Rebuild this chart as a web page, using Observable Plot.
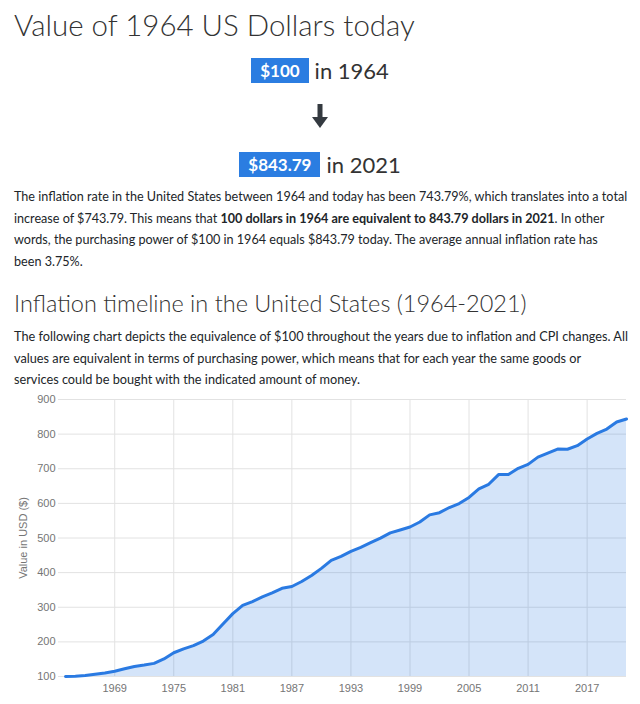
<!DOCTYPE html>
<html><head><meta charset="utf-8">
<script src="https://cdn.jsdelivr.net/npm/d3@7"></script>
<script src="https://cdn.jsdelivr.net/npm/@observablehq/plot@0.6"></script>
<style>
body{margin:0;width:640px;height:704px;position:relative;overflow:hidden;background:#fff;font-family:Lato,"Open Sans",sans-serif;color:#212529;}
.abs{position:absolute;white-space:nowrap;}
#title{left:14px;top:4px;font-size:34px;font-weight:300;line-height:42px;color:#333;}
.row{position:absolute;left:0;width:640px;text-align:center;white-space:nowrap;color:#333;}
.badge{display:inline-block;background:#2b7de1;color:#fff;font-weight:700;font-size:17px;height:25px;line-height:25px;padding:0 9px;vertical-align:middle;}
.after{font-size:22px;vertical-align:middle;margin-left:6px;}
.para{left:14px;font-size:13.5px;line-height:21.7px;color:#212529;}
#h2{left:14px;top:283px;font-size:28px;font-weight:300;line-height:40px;color:#333;}
#chart{position:absolute;left:0;top:388px;}
</style></head>
<body>
<div id="title" class="abs"><span id="titleTxt">Value of 1964 US Dollars today</span></div>
<div class="row" style="top:57px"><span class="badge">$100</span><span class="after">in 1964</span></div>
<div class="row" style="top:103px"><svg width="16" height="26" viewBox="0 0 16 26" style="display:inline-block"><rect x="5.5" y="1" width="5" height="15" fill="#343a40"/><polygon points="0,14 16,14 8,25" fill="#343a40"/></svg></div>
<div class="row" style="top:151px"><span class="badge">$843.79</span><span class="after">in 2021</span></div>
<div id="p1" class="abs para" style="top:186px"><span id="p1l1">The inflation rate in the United States between 1964 and today has been 743.79%, which translates into a total</span><br><span>increase of $743.79. This means that <b>100 dollars in 1964 are equivalent to 843.79 dollars in 2021</b>. In other</span><br><span>words, the purchasing power of $100 in 1964 equals $843.79 today. The average annual inflation rate has</span><br><span>been 3.75%.</span></div>
<div id="h2" class="abs"><span id="h2Txt">Inflation timeline in the United States (1964-2021)</span></div>
<div id="p2" class="abs para" style="top:326px"><span id="p2l1">The following chart depicts the equivalence of $100 throughout the years due to inflation and CPI changes. All</span><br><span>values are equivalent in terms of purchasing power, which means that for each year the same goods or</span><br><span>services could be bought with the indicated amount of money.</span></div>
<div id="chart"></div>
<script>
const years = [1964,1965,1966,1967,1968,1969,1970,1971,1972,1973,1974,1975,1976,1977,1978,1979,1980,1981,1982,1983,1984,1985,1986,1987,1988,1989,1990,1991,1992,1993,1994,1995,1996,1997,1998,1999,2000,2001,2002,2003,2004,2005,2006,2007,2008,2009,2010,2011,2012,2013,2014,2015,2016,2017,2018,2019,2020,2021];
const values = [100.0,101.0,102.9,106.5,110.4,115.2,122.3,128.8,133.0,137.9,150.8,168.6,179.9,189.3,202.3,221.0,251.8,281.6,305.2,316.5,329.8,341.4,354.7,359.9,374.4,391.9,412.3,435.6,446.9,461.5,473.1,486.4,499.7,514.9,523.0,531.7,546.3,566.7,573.1,588.0,599.4,617.2,641.7,655.1,683.1,683.3,701.3,712.7,733.6,745.2,757.0,756.3,766.7,785.9,802.2,814.6,834.9,843.79];
const yTicks = [100,200,300,400,500,600,700,800,900];
const xTicks = [1969,1975,1981,1987,1993,1999,2005,2011,2017];
const yTitle = "Value in USD ($)";

function fit(id, target, applyTo) {
  const el = document.getElementById(id);
  const w = el.getBoundingClientRect().width;
  const box = document.getElementById(applyTo || id);
  const fs = parseFloat(getComputedStyle(box).fontSize);
  box.style.fontSize = (fs * target / w) + "px";
}
fit("titleTxt", 401, "title");
fit("p1l1", 614, "p1");
fit("h2Txt", 513, "h2");
fit("p2l1", 614, "p2");

const data = years.map((y, i) => ({year: y, value: values[i]}));
const blue = "#2a7ae2";
const chart = Plot.plot({
  width: 640, height: 316,
  marginLeft: 58, marginRight: 14, marginTop: 11, marginBottom: 28,
  style: {fontFamily: "Arial, 'Liberation Sans', sans-serif", fontSize: "11px", color: "#757575", background: "transparent"},
  x: {domain: [1964, 2021], insetLeft: 7, ticks: xTicks, tickFormat: d => String(d), tickSize: 0, tickPadding: 8, label: null},
  y: {domain: [100, 900], ticks: yTicks, tickSize: 0, tickPadding: 3, label: yTitle, labelAnchor: "center", labelOffset: 39, labelArrow: "none"},
  marks: [
    Plot.gridY(yTicks, {stroke: "#e2e2e2", strokeOpacity: 1}),
    Plot.gridX(xTicks, {stroke: "#e2e2e2", strokeOpacity: 1}),
    Plot.areaY(data, {x: "year", y1: 100, y2: "value", fill: blue, fillOpacity: 0.2}),
    Plot.lineY(data, {x: "year", y: "value", stroke: blue, strokeWidth: 3})
  ]
});
document.getElementById("chart").appendChild(chart);
</script>
</body></html>
